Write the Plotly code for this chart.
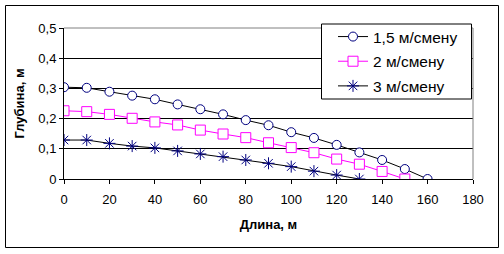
import plotly.graph_objects as go

length_m = [0, 10, 20, 30, 40, 50, 60, 70, 80, 90, 100, 110, 120, 130, 140, 150, 160]
depth_15 = [0.304, 0.302, 0.289, 0.276, 0.264, 0.247, 0.231, 0.214, 0.195, 0.178, 0.155, 0.136, 0.113, 0.088, 0.063, 0.033, 0.0]
length_2 = [0, 10, 20, 30, 40, 50, 60, 70, 80, 90, 100, 110, 120, 130, 140, 150]
depth_2 = [0.226, 0.223, 0.214, 0.201, 0.189, 0.179, 0.162, 0.149, 0.137, 0.120, 0.104, 0.087, 0.066, 0.049, 0.025, 0.0]
length_3 = [0, 10, 20, 30, 40, 50, 60, 70, 80, 90, 100, 110, 120, 130]
depth_3 = [0.129, 0.129, 0.118, 0.109, 0.103, 0.093, 0.083, 0.074, 0.063, 0.052, 0.041, 0.026, 0.013, 0.0]

y_tickvals = [0, 0.1, 0.2, 0.3, 0.4, 0.5]
y_ticktext = ["0", "0,1", "0,2", "0,3", "0,4", "0,5"]
x_tickvals = [0, 20, 40, 60, 80, 100, 120, 140, 160, 180]

FONT = "Arial, Liberation Sans, sans-serif"
NAVY = "#000080"

W, H = 504, 254
L, R, T, B = 64, 31, 28, 75
PW, PH = W - L - R, H - T - B


def px_x(p):
    return (p - L) / PW


def px_y(p):
    return (H - B - p) / PH


fig = go.Figure()
fig.add_trace(go.Scatter(
    x=length_m, y=depth_15, name="1,5 м/смену", mode="lines+markers", legendgroup="a",
    line=dict(color="black", width=1),
    marker=dict(symbol="circle", size=9, color="white", line=dict(color=NAVY, width=1)),
))
fig.add_trace(go.Scatter(
    x=length_2, y=depth_2, name="2 м/смену", mode="lines+markers", legendgroup="b",
    line=dict(color="#FF00FF", width=1),
    marker=dict(symbol="square", size=10, color="white", line=dict(color="#FF00FF", width=1)),
))
fig.add_trace(go.Scatter(
    x=length_3, y=depth_3, name="3 м/смену", mode="lines+markers", legendgroup="c",
    line=dict(color="black", width=1),
    marker=dict(symbol="asterisk-open", size=10, color=NAVY, line=dict(color=NAVY, width=1)),
))

fig.update_layout(
    width=W, height=H,
    margin=dict(l=L, r=R, t=T, b=B),
    paper_bgcolor="white", plot_bgcolor="white",
    font=dict(family=FONT, size=13, color="black"),
    showlegend=True,
    legend=dict(
        x=px_x(333), y=px_y(20), xanchor="left", yanchor="top",
        bgcolor="rgba(0,0,0,0)", borderwidth=0,
        font=dict(family=FONT, size=15.5, color="black"),
        itemwidth=30, traceorder="grouped", tracegroupgap=1.5,
    ),
    xaxis=dict(
        range=[0, 180], tickvals=x_tickvals, ticks="outside", ticklen=4,
        tickcolor="black", showline=True, linecolor="black", linewidth=1,
        showgrid=False, zeroline=False, automargin=False, ticklabelstandoff=4,
        tickfont=dict(family=FONT, size=13),
        title=dict(text="<b>Длина, м</b>", font=dict(family=FONT, size=13), standoff=14),
    ),
    yaxis=dict(
        range=[0, 0.5], tickvals=y_tickvals, ticktext=y_ticktext, ticks="outside",
        ticklen=4, tickcolor="black", showline=True, linecolor="black", linewidth=1,
        showgrid=True, gridcolor="black", gridwidth=1, zeroline=False, automargin=False,
        tickfont=dict(family=FONT, size=13),
        title=dict(text="<b>Глубина, м</b>", font=dict(family=FONT, size=13), standoff=10),
    ),
    shapes=[
        dict(type="line", xref="paper", yref="paper", x0=0, x1=1, y0=1, y1=1,
             line=dict(color="#808080", width=1), layer="above"),
        dict(type="line", xref="paper", yref="paper", x0=1, x1=1, y0=0, y1=1,
             line=dict(color="#808080", width=1), layer="above"),
        dict(type="rect", xref="paper", yref="paper", x0=px_x(321.5), x1=px_x(471.5),
             y0=px_y(99), y1=px_y(24), line=dict(color="black", width=1),
             fillcolor="white", layer="above"),
        dict(type="rect", xref="paper", yref="paper", x0=px_x(5.5), x1=px_x(498.5),
             y0=px_y(247.5), y1=px_y(5.5), line=dict(color="black", width=1), layer="above"),
    ],
)

fig.write_html(
    "out.html",
    config={"displayModeBar": False},
    post_script="document.body.style.margin='0';document.body.style.overflow='hidden';",
)
